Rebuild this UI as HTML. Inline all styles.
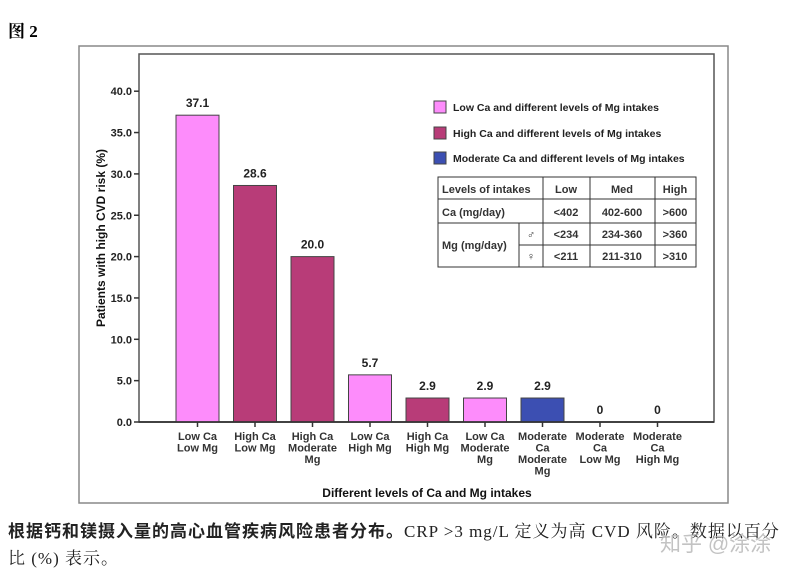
<!DOCTYPE html>
<html><head><meta charset="utf-8"><style>
body{margin:0;width:807px;height:580px;background:#fff;overflow:hidden;font-family:"Liberation Sans",sans-serif;}
#title{position:absolute;left:8px;top:17px;font:bold 17px "Liberation Serif","Noto Serif CJK SC",serif;}
#cap{position:absolute;left:8px;top:516px;width:799px;font:17px/27px "Liberation Serif","Noto Serif CJK SC",serif;color:#222;letter-spacing:1px;white-space:nowrap;}
#wm{position:absolute;left:660px;top:528px;font:21px "Liberation Sans","Noto Sans CJK SC",sans-serif;color:rgba(180,180,180,0.8);}
</style></head><body>
<div id="title">图 <b>2</b></div>
<svg id="chart" width="807" height="580" style="position:absolute;left:0;top:0">
</svg>
<div id="cap"><b style="font-family:'Noto Sans CJK SC',sans-serif">根据钙和镁摄入量的高心血管疾病风险患者分布。</b>CRP &gt;3 mg/L 定义为高 CVD 风险。数据以百分<br>比 (%) 表示。</div>
<div id="wm">知乎 @涂涂</div>
<script>
const categories=[["Low Ca","Low Mg"],["High Ca","Low Mg"],["High Ca","Moderate","Mg"],["Low Ca","High Mg"],["High Ca","High Mg"],["Low Ca","Moderate","Mg"],["Moderate","Ca","Moderate","Mg"],["Moderate","Ca","Low Mg"],["Moderate","Ca","High Mg"]];
const values=[37.1,28.6,20.0,5.7,2.9,2.9,2.9,0,0];
const valueLabels=["37.1","28.6","20.0","5.7","2.9","2.9","2.9","0","0"];
const groups=["low","high","high","low","high","low","mod","mod","mod"];
const yTicks=[0,5,10,15,20,25,30,35,40];
const svg=document.getElementById('chart');
const NS='http://www.w3.org/2000/svg';
const colors={low:'#fd8cfb',high:'#b83c78',mod:'#3c4fb2'};
const L=139,R=714,T=54,B=422;
const y=v=>B-v*8.27;
const x=i=>197.5+i*57.5;
function mk(t,a,txt){const e=document.createElementNS(NS,t);for(const k in a)e.setAttribute(k,a[k]);if(txt!=null)e.textContent=txt;svg.appendChild(e);return e;}
let e=mk('rect',{x:79,y:46,width:649,height:457,fill:'none',stroke:'#888','stroke-width':1.5});

e=mk('rect',{x:L,y:T,width:R-L,height:B-T,fill:'#fff',stroke:'#555','stroke-width':1.5});

yTicks.forEach(t=>{
 e=mk('line',{x1:L-5,x2:L,y1:y(t),y2:y(t),stroke:'#333','stroke-width':1.5});
 
 e=mk('text',{x:L-7,y:y(t)+4,'text-anchor':'end','font-size':11,'font-weight':'bold',fill:'#222'},t.toFixed(1));
 
});
values.forEach((v,i)=>{
 e=mk('rect',{x:x(i)-21.5,y:y(v),width:43,height:B-y(v),fill:colors[groups[i]],stroke:'#444','stroke-width':1});
 
 e=mk('text',{x:x(i),y:y(v)-8,'text-anchor':'middle','font-size':12,'font-weight':'bold',fill:'#222'},valueLabels[i]);
 
 e=mk('line',{x1:x(i),x2:x(i),y1:B,y2:B+5,stroke:'#333','stroke-width':1.5});
 
 categories[i].forEach((s,j)=>{
  e=mk('text',{x:x(i),y:B+18+j*11.5,'text-anchor':'middle','font-size':11,'font-weight':'bold',fill:'#333'},s);
  
 });
});
e=mk('line',{x1:L,x2:R,y1:B,y2:B,stroke:'#333','stroke-width':1.8});

e=mk('text',{x:427,y:497,'text-anchor':'middle','font-size':12,'font-weight':'bold',fill:'#111'},'Different levels of Ca and Mg intakes');

e=mk('text',{x:0,y:0,transform:'translate(105,238) rotate(-90)','text-anchor':'middle','font-size':12,'font-weight':'bold',fill:'#111'},'Patients with high CVD risk (%)');

const legend=[['low','Low Ca and different levels of Mg intakes',101],['high','High Ca and different levels of Mg intakes',127],['mod','Moderate Ca and different levels of Mg intakes',152]];
legend.forEach(l=>{
 e=mk('rect',{x:434,y:l[2],width:12,height:12,fill:colors[l[0]],stroke:'#444'});
 
 e=mk('text',{x:453,y:l[2]+10,'font-size':10.5,'font-weight':'bold',fill:'#222'},l[1]);
 
});
e=mk('rect',{x:438,y:177,width:258,height:90,fill:'#fff',stroke:'#333'});

[[543,177,543,267],[590,177,590,267],[655,177,655,267],[519,223,519,267],[438,199,696,199],[438,223,696,223],[519,245,696,245]].forEach(s=>{
 e=mk('line',{x1:s[0],y1:s[1],x2:s[2],y2:s[3],stroke:'#333'});
 
});
[[442,193,'start','Levels of intakes'],[566,193,'middle','Low'],[622,193,'middle','Med'],[675,193,'middle','High'],
 [442,216,'start','Ca (mg/day)'],[566,216,'middle','<402'],[622,216,'middle','402-600'],[675,216,'middle','>600'],
 [442,249,'start','Mg (mg/day)'],[531,238,'middle','♂'],[566,238,'middle','<234'],[622,238,'middle','234-360'],[675,238,'middle','>360'],
 [531,260,'middle','♀'],[566,260,'middle','<211'],[622,260,'middle','211-310'],[675,260,'middle','>310']].forEach(c=>{
 e=mk('text',{x:c[0],y:c[1],'text-anchor':c[2],'font-size':11,'font-weight':'bold',fill:'#333'},c[3]);
 
});
</script>
</body></html>
